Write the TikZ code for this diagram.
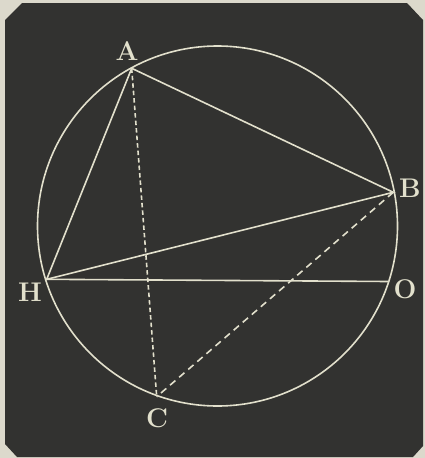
\documentclass[tikz,border=0pt]{standalone}
\usepackage{tikz}
\definecolor{paper}{HTML}{DCD9CC}
\definecolor{board}{HTML}{323230}
\definecolor{chalk}{HTML}{E2E0CC}
\tikzset{
  chalkline/.style={draw=chalk, line width=1.6pt, line cap=round},
  chalkdash/.style={draw=chalk, line width=1.6pt, dash pattern=on 7pt off 5pt},
  chalkdot/.style={draw=chalk, line width=1.6pt, dash pattern=on 4.5pt off 3pt},
  lbl/.style={text=chalk, font=\fontsize{27}{27}\selectfont\bfseries, inner sep=0pt},
  pt/.style={inner sep=0pt, minimum size=0pt}
}
\begin{document}
\begin{tikzpicture}[x=1pt,y=-1pt]
\useasboundingbox (0,0) rectangle (425,458);
\fill[paper] (0,0) rectangle (425,458);
\fill[board] (5,20) -- (22,3) -- (407,3) -- (423,20) -- (423,446) -- (413,457) -- (17,457) -- (5,444) -- cycle;
\node[pt] (ctr) at (217.5,226) {};
\draw[chalkline] (ctr) circle[radius=180];
\coordinate (A) at (131.7,68.3);
\coordinate (B) at (393.3,192.3);
\coordinate (H) at (46.7,279.3);
\coordinate (O) at (388.3,281.5);
\coordinate (C) at (156.7,396.7);
\draw[chalkline] (A) -- (H) -- (B) -- cycle;
\draw[chalkline] (H) -- (O);
\draw[chalkdot] (A) -- (C);
\draw[chalkdash] (B) -- (C);
\node[lbl] (lA) at (127,51) {A};
\node[lbl] (lB) at (410,188) {B};
\node[lbl] (lH) at (30,292) {H};
\node[lbl] (lO) at (405,289) {O};
\node[lbl] (lC) at (157,418) {C};
\end{tikzpicture}
\end{document}
